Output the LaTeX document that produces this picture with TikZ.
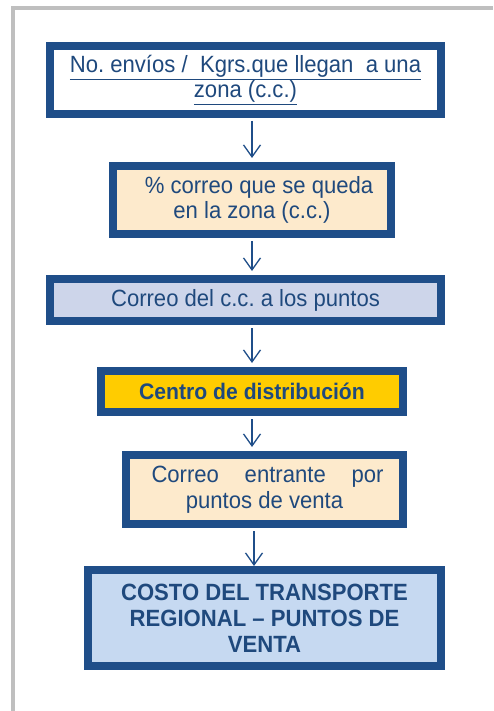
\documentclass[tikz,border=0pt]{standalone}
\usepackage{fontspec}
\setmainfont{Liberation Sans}[FakeStretch=0.94]
\usepackage{tikz}
\usetikzlibrary{arrows.meta,positioning,calc}
\frenchspacing
\definecolor{myblue}{RGB}{31,78,137}
\definecolor{mytext}{RGB}{31,73,125}
\definecolor{myframe}{RGB}{191,191,191}
\definecolor{mypeach}{RGB}{253,234,204}
\definecolor{mylilac}{RGB}{205,213,234}
\definecolor{mygold}{RGB}{255,204,0}
\definecolor{mysky}{RGB}{198,217,241}
\tikzset{
    line/.style   = {-{Straight Barb[length=12pt,width=17pt,line width=1.3pt]}, line width=1.3pt, draw=myblue,
            shorten <=3pt, shorten >=4pt},
    block/.style  = {draw=myblue, line width=8pt, fill=white, text=mytext,
            align=center, inner sep=0pt,
            font=\fontsize{23.5}{25.5}\selectfont},
    blockP/.style = {block, fill=mypeach},
    blockL/.style = {block, fill=mylilac},
    blockG/.style = {block, fill=mygold, font=\fontsize{22.5}{24}\selectfont\bfseries},
    blockS/.style = {block, fill=mysky, font=\fontsize{23.5}{26}\selectfont\bfseries},
}

\begin{document}
\begin{tikzpicture}[x=1pt,y=-1pt]
    \useasboundingbox (0,0) rectangle (493,711);
    % frame
    \draw[myframe, line width=4pt] (13,711) -- (13,7.7) -- (493,7.7);
    % Nodes
    \node[block, minimum width=391pt, minimum height=68pt] (envios) at (245.5,80)
        {\underline{No. envíos /\ \ Kgrs.que llegan\ \ a una}\\\underline{zona (c.c.)}};
    \node[blockP, minimum width=278pt, minimum height=68pt] (queda) at (252,200)
        {\hspace*{14pt}\% correo que se queda\\en la zona (c.c.)};
    \node[blockL, minimum width=391pt, minimum height=42pt] (puntos) at (245.5,300)
        {Correo del c.c. a los puntos};
    \node[blockG, minimum width=302pt, minimum height=41pt] (centro) at (252,391.5)
        {Centro\ de distribución};
    \node[blockP, minimum width=277pt, minimum height=69pt] (entrante) at (264.5,489.5)
        {\makebox[238pt][r]{\makebox[232pt]{Correo\hfill entrante\hfill por}}\\puntos de venta};
    \node[blockS, minimum width=353pt, minimum height=96pt] (costo) at (264.5,618)
        {COSTO DEL TRANSPORTE\\REGIONAL -- PUNTOS DE\\VENTA};
    \coordinate (axis) at (252,0);
    % Arrows
    \draw[line] (envios.south -| axis) -- (axis |- queda.north);
    \draw[line] (queda.south -| axis) -- (axis |- puntos.north);
    \draw[line] (puntos.south -| axis) -- (axis |- centro.north);
    \draw[line] (centro.south -| axis) -- (axis |- entrante.north);
    \draw[line, shorten >=0pt] ($(entrante.south -| axis)+(2,0)$) -- ($(axis |- costo.north)+(2,0)$);
\end{tikzpicture}
\end{document}
